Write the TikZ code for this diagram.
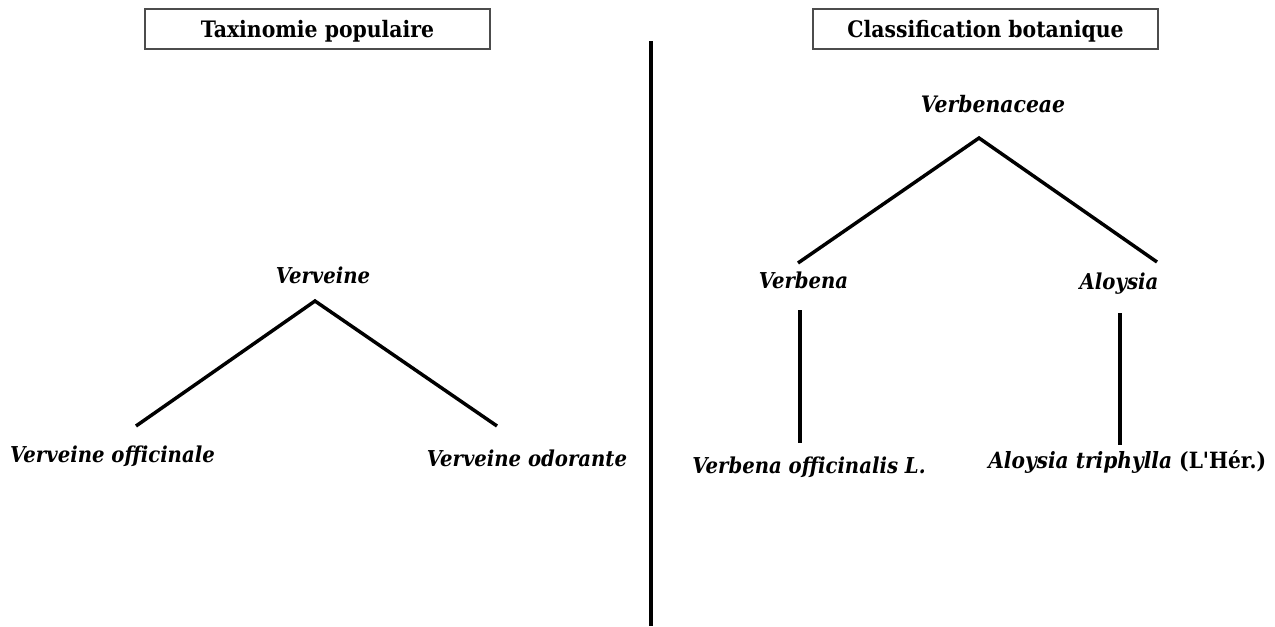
\documentclass[tikz,border=0pt]{standalone}
\usepackage{fontspec}
\setmainfont{DejaVu Serif Condensed}
\begin{document}
\begin{tikzpicture}[x=0.75pt,y=-0.75pt,
  titlebox/.style={draw=black!70,line width=0.8pt,minimum width=345*0.75pt,minimum height=40*0.75pt,inner sep=0pt},
  titletext/.style={inner sep=0pt,anchor=base,font=\bfseries\fontsize{17}{20}\selectfont},
  item/.style={inner sep=0pt,anchor=base,font=\bfseries\itshape\fontsize{16.4}{19}\selectfont},
  branch/.style={line width=2.6pt,line cap=butt},
  divider/.style={line width=3pt}]
\useasboundingbox[fill=white] (0,0) rectangle (1275,626);
% titles
\node[titlebox] (t1) at (317.5,29) {};
\node[titletext] (t1t) at (317.5,37) {Taxinomie populaire};
\node[titlebox] (t2) at (985.5,29) {};
\node[titletext] (t2t) at (985.5,37) {Classification botanique};
% divider
\coordinate (dtop) at (651,41);
\coordinate (dbot) at (651,626);
\draw[divider] (dtop) -- (dbot);
% left tree
\node[item] (v) at (323,283) {Verveine};
\node[item] (vof) at (112.5,462) {Verveine officinale};
\node[item] (vod) at (527,466) {Verveine odorante};
\coordinate (va) at (315,301);
\coordinate (vl) at (136,426);
\coordinate (vr) at (497,426);
\draw[branch] (vl) -- (va) -- (vr);
% right tree
\node[item,font=\bfseries\itshape\fontsize{17}{20}\selectfont] (fam) at (993,112) {Verbenaceae};
\node[item] (gv) at (803.5,288) {Verbena};
\node[item] (ga) at (1119,289) {Aloysia};
\node[item] (sv) at (809,473) {Verbena officinalis L.};
\node[item,anchor=base west,font=\bfseries\itshape\fontsize{16.8}{19}\selectfont] (sa) at (988,468) {Aloysia triphylla \textup{(L{\addfontfeature{Ligatures=TeXOff}'}Hér.)}};
\coordinate (fa) at (979,138);
\coordinate (fl) at (798,263);
\coordinate (fr) at (1157,262);
\draw[branch] (fl) -- (fa) -- (fr);
\coordinate (gv1) at (800,310);
\coordinate (gv2) at (800,443);
\coordinate (ga1) at (1120,313);
\coordinate (ga2) at (1120,445);
\draw[branch] (gv1) -- (gv2);
\draw[branch] (ga1) -- (ga2);
\end{tikzpicture}
\end{document}
